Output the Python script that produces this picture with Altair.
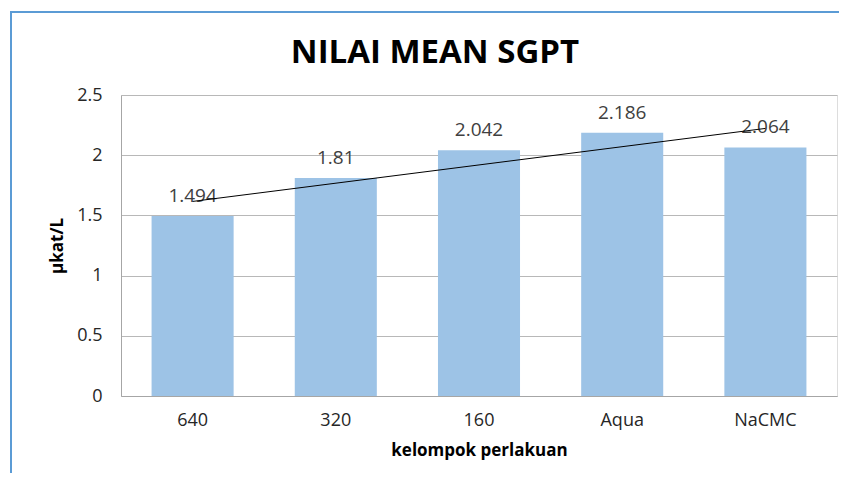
import altair as alt
import pandas as pd

categories = ["640", "320", "160", "Aqua", "NaCMC"]
values = [1.494, 1.81, 2.042, 2.186, 2.064]
labels = ["1.494", "1.81", "2.042", "2.186", "2.064"]
order_idx = [1, 2, 3, 4, 5]
y_ticks = [0, 0.5, 1, 1.5, 2, 2.5]
chart_title = "NILAI MEAN SGPT"

df = pd.DataFrame({"kelompok": categories, "nilai": values, "label": labels, "idx": order_idx})

FONT = "Open Sans"
TXT = "#262626"

x_band = alt.X(
    "kelompok:N", sort=categories, title="kelompok perlakuan",
    scale=alt.Scale(paddingInner=0.427, paddingOuter=0.2135),
    axis=alt.Axis(labelAngle=0, ticks=False, domainColor="#A6A6A6", labelFontSize=18,
                  labelPadding=15, titleFontSize=17, titleFontWeight="bold", titlePadding=13,
                  labelColor=TXT, titleColor="#000", labelFont=FONT, titleFont=FONT, grid=False))
y_q = alt.Y(
    "nilai:Q", title="µkat/L", scale=alt.Scale(domain=[0, 2.5]),
    axis=alt.Axis(values=y_ticks, format="~g", ticks=False, domainColor="#A6A6A6",
                  gridColor="#B8B8B8", labelFontSize=18, labelPadding=19, titleFontSize=17,
                  titleFontWeight="bold", titlePadding=10, labelColor=TXT, titleColor="#000",
                  labelFont=FONT, titleFont=FONT))

base = alt.Chart(df)
bars = base.mark_bar(color="#9DC3E6").encode(x=x_band, y=y_q)
text = base.mark_text(dy=-14, baseline="alphabetic", fontSize=19, color="#404040", font=FONT).encode(
    x=x_band, y=y_q, text="label:N")
trend = base.transform_regression("idx", "nilai", method="linear").mark_line(
    color="#000", strokeWidth=1).encode(
    x=alt.X("idx:Q", scale=alt.Scale(domain=[0.5, 5.5]), axis=None),
    y=y_q)

deco_df = pd.DataFrame({"t": [chart_title]})
frame_left = alt.Chart(deco_df).mark_rule(color="#5B9BD5", strokeWidth=2).encode(
    x=alt.value(-110), y=alt.value(-83), y2=alt.value(400))
frame_top = alt.Chart(deco_df).mark_rule(color="#5B9BD5", strokeWidth=2).encode(
    x=alt.value(-111), x2=alt.value(760), y=alt.value(-83))
title_mark = alt.Chart(deco_df).mark_text(
    font=FONT, fontSize=33, fontWeight="bold", color="#000", align="center",
    baseline="alphabetic").encode(x=alt.value(314), y=alt.value(-32), text="t:N")

bar_layer = alt.layer(bars, text)
chart = alt.layer(bar_layer, trend, frame_left, frame_top, title_mark).resolve_scale(
    x="independent").properties(
    width=716, height=301,
    autosize=alt.AutoSizeParams(type="none"),
    padding={"left": 113, "top": 87, "right": 2, "bottom": 77},
).configure_view(strokeWidth=0).configure(background="white")

chart.save("out.html", embed_options={"renderer": "svg", "actions": False})
